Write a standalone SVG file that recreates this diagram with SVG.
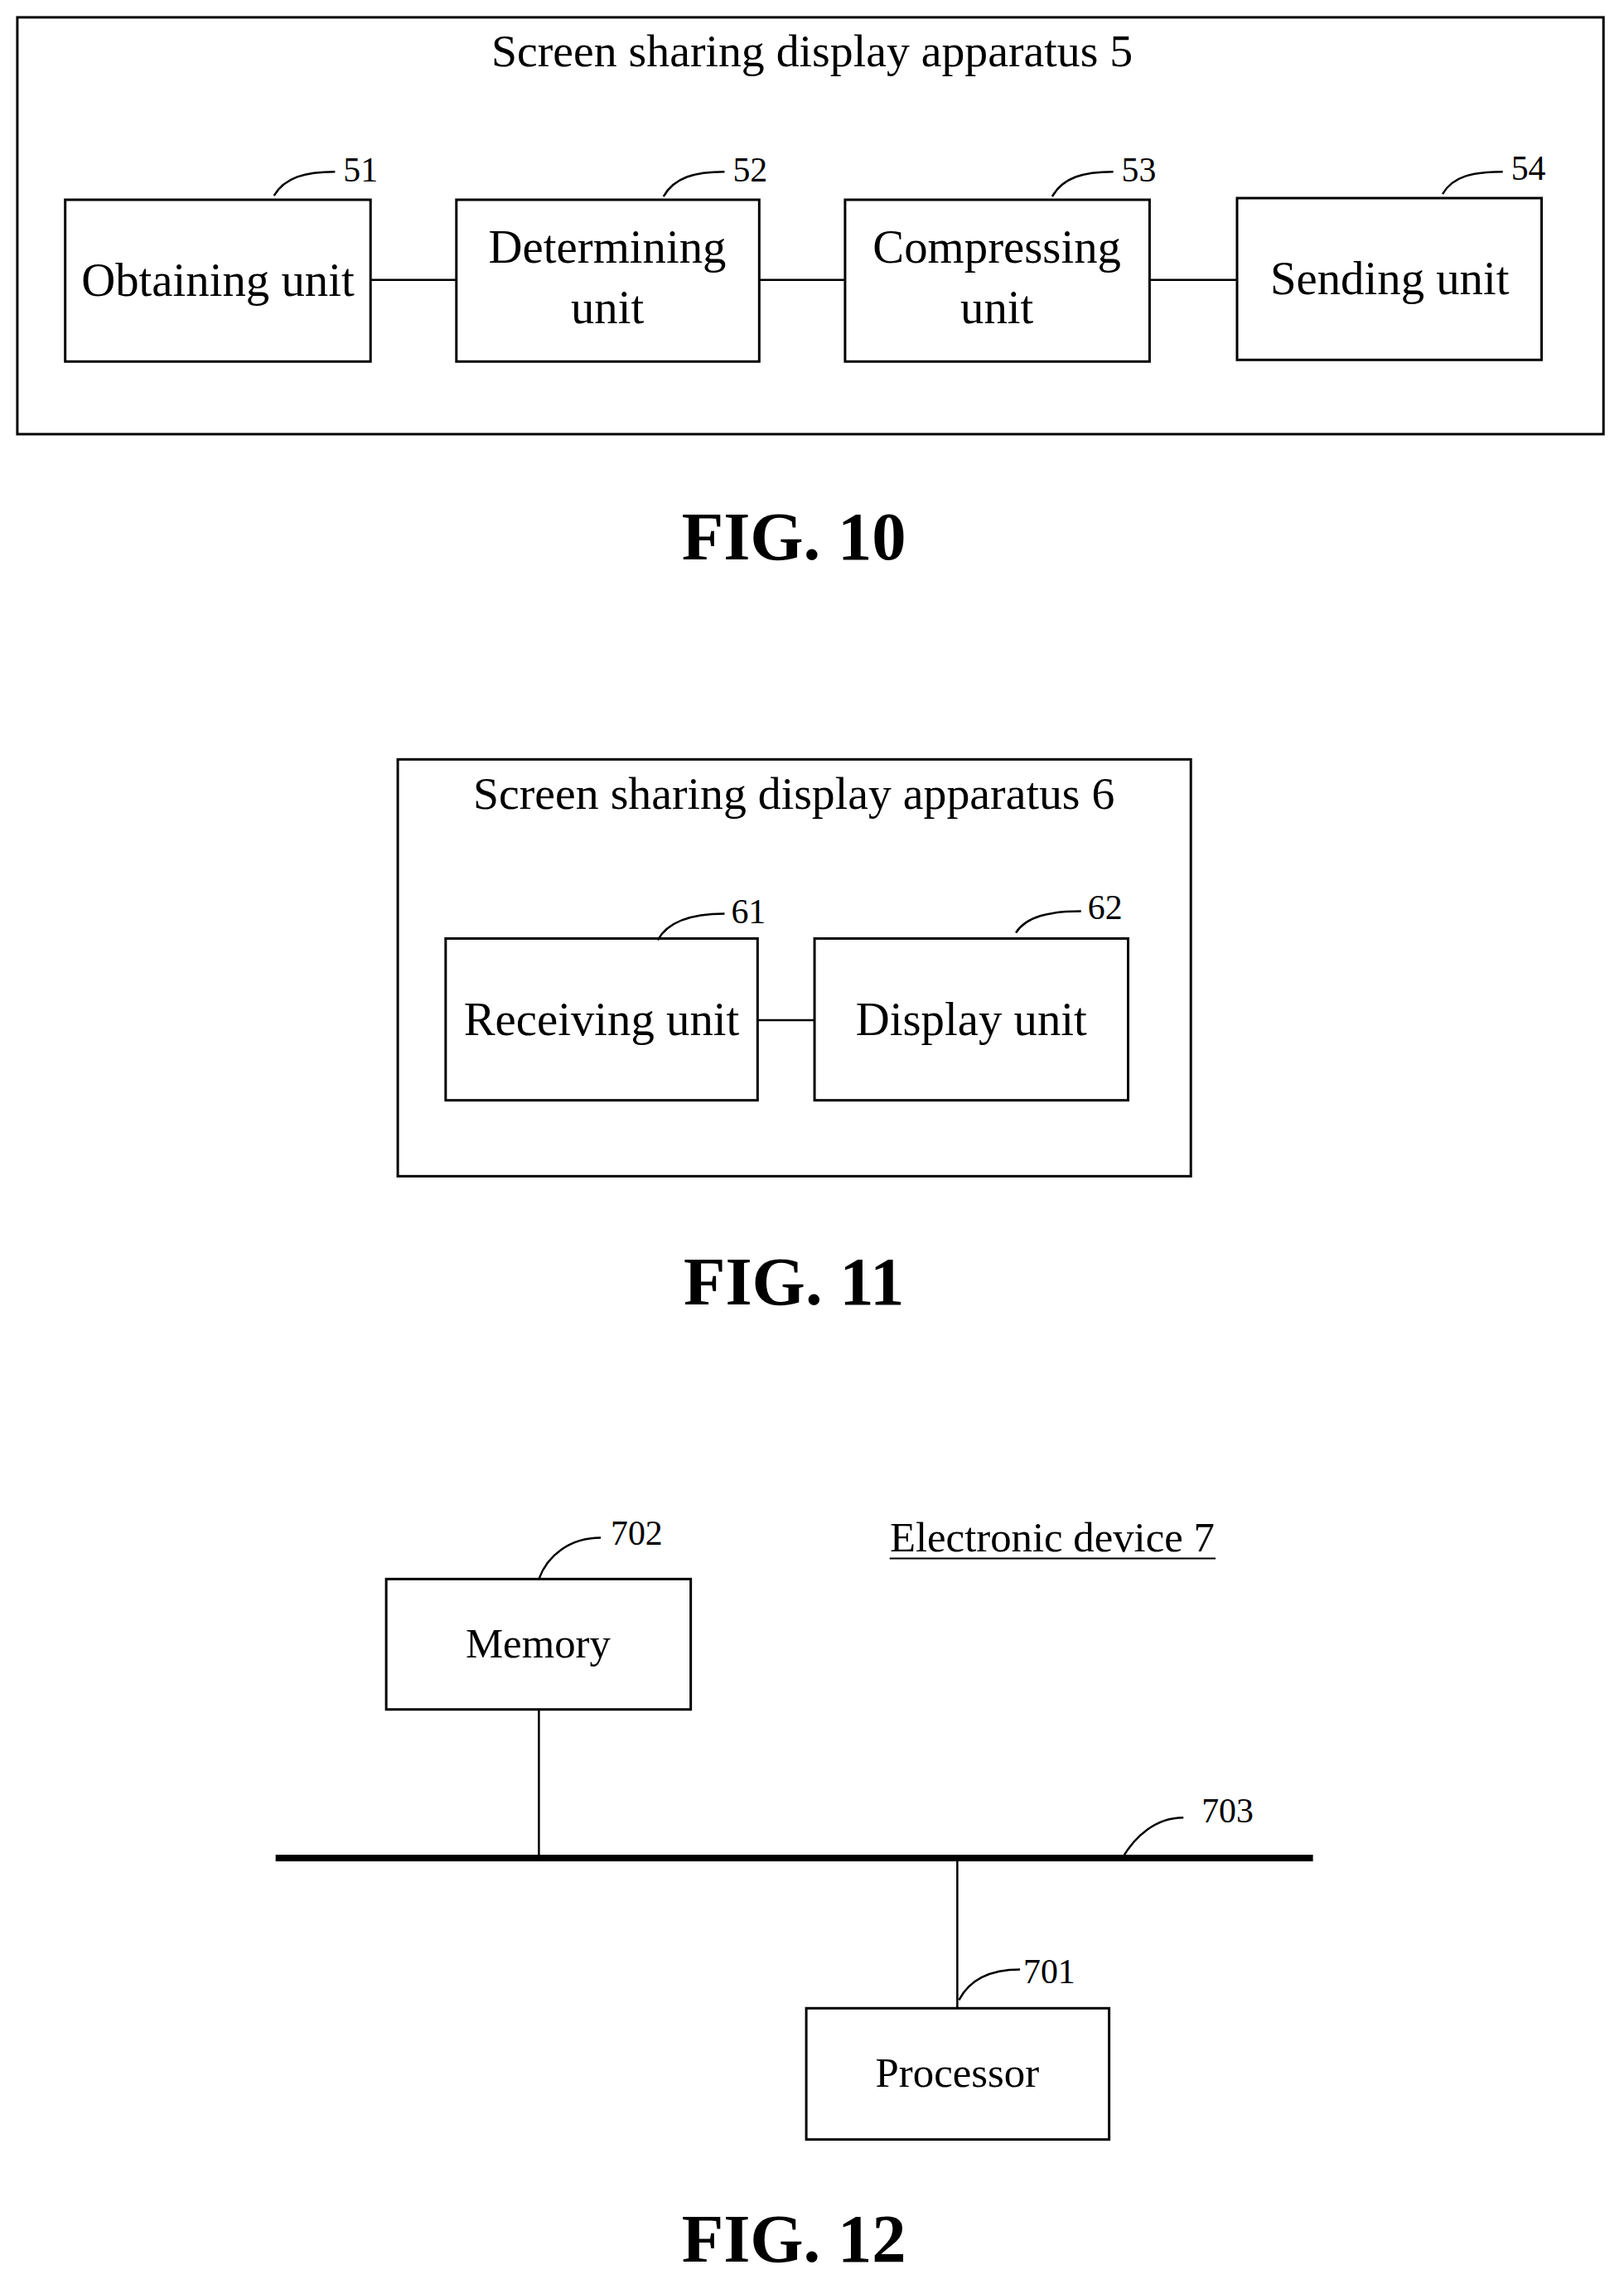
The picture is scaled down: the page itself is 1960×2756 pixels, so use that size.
<svg xmlns="http://www.w3.org/2000/svg" width="1960" height="2756" viewBox="0 0 1960 2756">
<style>
rect{fill:#fff;stroke:#000;stroke-width:3}
.c line,.c path{stroke:#000;stroke-width:2.5;fill:none}
text{font-family:"Liberation Serif",serif;fill:#000}
.t{font-size:57px;text-anchor:middle}
.h{font-size:56px;text-anchor:middle}
.n{font-size:42px}
.s{font-size:51px;text-anchor:middle}
.f{font-size:83px;font-weight:bold;text-anchor:middle}
</style>
<rect x="0" y="0" width="1960" height="2756" style="stroke:none"/>
<g transform="scale(0.996)">
<g id="fig10">
<rect x="21" y="21" width="1922" height="505"/>
<text class="h" x="984" y="80">Screen sharing display apparatus 5</text>
<g id="n51"><rect x="79" y="242" width="370" height="196"/><text class="t" x="264" y="358">Obtaining unit</text><text class="n" x="416" y="220">51</text></g>
<g id="n52"><rect x="553" y="242" width="367" height="196"/><text class="t" x="736" y="318">Determining</text><text class="t" x="736" y="392">unit</text><text class="n" x="888" y="220">52</text></g>
<g id="n53"><rect x="1024" y="242" width="369" height="196"/><text class="t" x="1208" y="318">Compressing</text><text class="t" x="1208" y="392">unit</text><text class="n" x="1359" y="220">53</text></g>
<g id="n54"><rect x="1499" y="240" width="369" height="196"/><text class="t" x="1684" y="356">Sending unit</text><text class="n" x="1831" y="218">54</text></g>
<text class="f" x="962" y="678">FIG. 10</text>
</g>
<g id="fig11">
<rect x="482" y="920" width="961" height="505"/>
<text class="h" x="962" y="980">Screen sharing display apparatus 6</text>
<g id="n61"><rect x="540" y="1137" width="378" height="196"/><text class="t" x="729" y="1254">Receiving unit</text><text class="n" x="886" y="1118">61</text></g>
<g id="n62"><rect x="987" y="1137" width="380" height="196"/><text class="t" x="1177" y="1254">Display unit</text><text class="n" x="1318" y="1113">62</text></g>
<text class="f" x="962" y="1580">FIG. 11</text>
</g>
<g id="fig12">
<g id="n702"><rect x="468" y="1913" width="369" height="158"/><text class="s" x="652" y="2008">Memory</text><text class="n" x="740" y="1872">702</text></g>
<g id="n701"><rect x="977" y="2433" width="367" height="159"/><text class="s" x="1160" y="2528">Processor</text><text class="n" x="1240" y="2403">701</text></g>
<text x="1275" y="1880" text-anchor="middle" style="font-size:51px">Electronic device 7</text>
<line x1="1078" y1="1888" x2="1473" y2="1888" stroke="#000" stroke-width="2"/>
<text class="n" x="1456" y="2208">703</text>
<text class="f" x="962" y="2740">FIG. 12</text>
</g>
<g id="connectors" class="c">
<line x1="449" y1="339" x2="553" y2="339"/>
<line x1="920" y1="339" x2="1024" y2="339"/>
<line x1="1393" y1="339" x2="1499" y2="339"/>
<line x1="918" y1="1236" x2="987" y2="1236"/>
<line x1="653" y1="2071" x2="653" y2="2251"/>
<line x1="1160" y1="2251" x2="1160" y2="2433"/>
<line x1="334" y1="2251" x2="1591" y2="2251" style="stroke-width:8"/>
<path d="M332,237 C345,215 370,208 406,208"/>
<path d="M804,238 C817,215 842,208 878,208"/>
<path d="M1275,238 C1288,215 1313,208 1349,208"/>
<path d="M1748,235 C1761,213 1786,208 1821,208"/>
<path d="M797,1139 C810,1115 840,1107 878,1107"/>
<path d="M1231,1130 C1244,1110 1272,1104 1310,1104"/>
<path d="M653,1913 C663,1885 690,1863 728,1863"/>
<path d="M1360,2251 C1375,2225 1400,2202 1434,2202"/>
<path d="M1162,2423 C1175,2398 1200,2386 1236,2386"/>
</g>
</g>
</svg>
